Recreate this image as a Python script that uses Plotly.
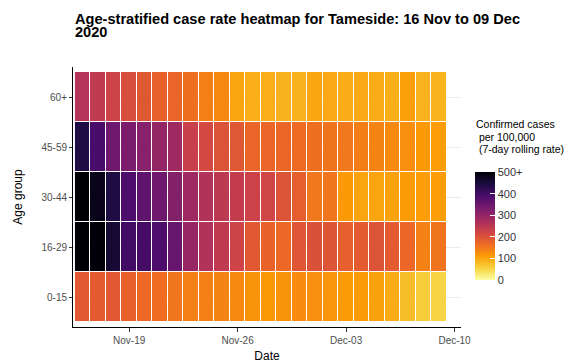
import pandas as pd
import plotly.graph_objects as go

# 7-day rolling case rate per 100,000, Tameside, by age group
dates = pd.date_range("2020-11-16", "2020-12-09", freq="D")
age_groups = ["0-15", "16-29", "30-44", "45-59", "60+"]

rate_0_15 = [190, 187, 190, 178, 168, 162, 152, 142, 140, 137, 130, 120,
             113, 120, 128, 125, 118, 110, 110, 104, 94, 75, 60, 52]
rate_16_29 = [560, 495, 455, 400, 395, 385, 355, 295, 262, 242, 225, 190,
              175, 168, 195, 202, 197, 180, 187, 198, 187, 170, 140, 155]
rate_30_44 = [530, 480, 440, 385, 365, 345, 320, 285, 262, 248, 240, 226,
              220, 200, 182, 150, 152, 112, 102, 102, 104, 110, 108, 108]
rate_45_59 = [440, 390, 345, 330, 315, 300, 285, 232, 215, 200, 192, 172,
              172, 170, 165, 160, 155, 150, 143, 137, 130, 125, 112, 108]
rate_60p = [258, 242, 224, 208, 192, 178, 172, 160, 142, 132, 102, 92,
            92, 88, 87, 100, 98, 93, 96, 94, 90, 106, 86, 85]

z = [rate_0_15, rate_16_29, rate_30_44, rate_45_59, rate_60p]

cbar_ticks = [0, 100, 200, 300, 400, 500]
cbar_labels = ["0", "100", "200", "300", "400", "500+"]

title_lines = ["Age-stratified case rate heatmap for Tameside: 16 Nov to 09 Dec", "2020"]
legend_lines = ["Confirmed cases", " per 100,000", " (7-day rolling rate)"]

fig = go.Figure(go.Heatmap(
    x=dates, y=age_groups, z=z,
    zmin=0, zmax=500,
    colorscale="Inferno_r",
    xgap=1, ygap=1,
    colorbar=dict(
        x=1.036, xanchor="left", xpad=0,
        y=0.388, yanchor="middle", len=0.415, lenmode="fraction", ypad=0,
        thickness=20, outlinewidth=0,
        tickvals=cbar_ticks, ticktext=cbar_labels,
        ticks="inside", ticklen=5, tickcolor="white",
        tickfont=dict(size=11, color="#333333"),
    ),
))

annotations = []
for i, line in enumerate(title_lines):
    annotations.append(dict(
        text="<b>" + line + "</b>", xref="paper", yref="paper",
        x=0.0, y=1 + (67 - (18.5 + 13 * i)) / 260,
        xanchor="left", yanchor="middle", showarrow=False,
        font=dict(size=14.6, color="black"),
    ))
for i, line in enumerate(legend_lines):
    annotations.append(dict(
        text=line, xref="paper", yref="paper",
        x=1.033, y=(327 - (124 + 12.5 * i)) / 260,
        xanchor="left", yanchor="middle", showarrow=False,
        font=dict(size=10.5, color="black"),
    ))

fig.update_layout(
    width=571, height=363,
    margin=dict(l=73, r=110, t=67, b=36),
    paper_bgcolor="white", plot_bgcolor="white",
    font=dict(family="Liberation Sans, Arial", color="#222222"),
    annotations=annotations,
)

fig.update_xaxes(
    range=["2020-11-15 09:00", "2020-12-10 10:00"],
    tickvals=pd.to_datetime(["2020-11-19", "2020-11-26", "2020-12-03", "2020-12-10"]),
    tickformat="%b-%d",
    showgrid=False, zeroline=False, automargin=False,
    showline=True, linecolor="black", linewidth=1,
    ticks="outside", ticklen=4, tickcolor="#333333",
    tickfont=dict(size=10, color="#4d4d4d"),
    title=dict(text="Date", font=dict(size=12, color="black"), standoff=6),
)
fig.update_yaxes(
    range=[-0.6, 4.6], automargin=False,
    showgrid=True, gridcolor="#ebebeb", gridwidth=1,
    showline=True, linecolor="black", linewidth=1,
    ticks="outside", ticklen=3, tickcolor="#333333",
    tickfont=dict(size=10, color="#4d4d4d"),
    title=dict(text="Age group", font=dict(size=12, color="black"), standoff=16),
)

# page body has a default 8px margin; drop it so the figure fills the window
fig.write_html("out.html", config={"displayModeBar": False},
               post_script="document.body.style.margin='0';")
